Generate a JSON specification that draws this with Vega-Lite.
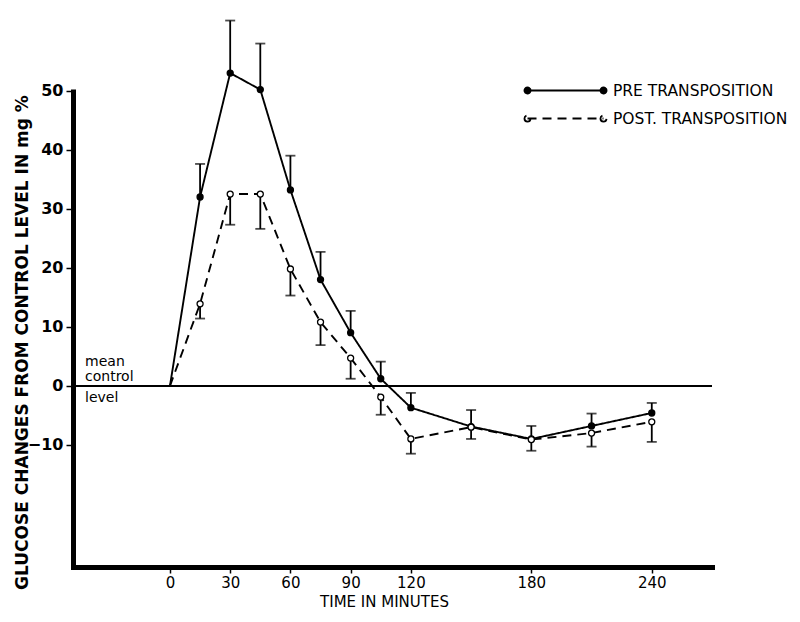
{
  "$schema": "https://vega.github.io/schema/vega-lite/v6.json",
  "width": 639,
  "height": 478,
  "autosize": {"type": "none"},
  "padding": {"left": 73, "top": 89, "right": 88, "bottom": 55},
  "background": "white",
  "config": {"view": {"stroke": null}, "font": "DejaVu Sans"},
  "datasets": {
    "glucose": [
      {"series": "PRE TRANSPOSITION", "t": 0, "v": 0, "e": null},
      {"series": "PRE TRANSPOSITION", "t": 15, "v": 32.0, "e": 37.6},
      {"series": "PRE TRANSPOSITION", "t": 30, "v": 53.0, "e": 61.9},
      {"series": "PRE TRANSPOSITION", "t": 45, "v": 50.2, "e": 58.0},
      {"series": "PRE TRANSPOSITION", "t": 60, "v": 33.2, "e": 39.0},
      {"series": "PRE TRANSPOSITION", "t": 75, "v": 18.0, "e": 22.7},
      {"series": "PRE TRANSPOSITION", "t": 90, "v": 9.0, "e": 12.7},
      {"series": "PRE TRANSPOSITION", "t": 105, "v": 1.2, "e": 4.1},
      {"series": "PRE TRANSPOSITION", "t": 120, "v": -3.7, "e": -1.2},
      {"series": "PRE TRANSPOSITION", "t": 150, "v": -6.9, "e": -4.1},
      {"series": "PRE TRANSPOSITION", "t": 180, "v": -9.0, "e": -6.8},
      {"series": "PRE TRANSPOSITION", "t": 210, "v": -6.8, "e": -4.7},
      {"series": "PRE TRANSPOSITION", "t": 240, "v": -4.6, "e": -2.9},
      {"series": "POST. TRANSPOSITION", "t": 0, "v": 0, "e": null},
      {"series": "POST. TRANSPOSITION", "t": 15, "v": 13.9, "e": 11.4},
      {"series": "POST. TRANSPOSITION", "t": 30, "v": 32.5, "e": 27.3},
      {"series": "POST. TRANSPOSITION", "t": 45, "v": 32.5, "e": 26.6},
      {"series": "POST. TRANSPOSITION", "t": 60, "v": 19.8, "e": 15.3},
      {"series": "POST. TRANSPOSITION", "t": 75, "v": 10.8, "e": 6.9},
      {"series": "POST. TRANSPOSITION", "t": 90, "v": 4.7, "e": 1.2},
      {"series": "POST. TRANSPOSITION", "t": 105, "v": -1.9, "e": -4.9},
      {"series": "POST. TRANSPOSITION", "t": 120, "v": -9.0, "e": -11.5},
      {"series": "POST. TRANSPOSITION", "t": 150, "v": -7.0, "e": -9.0},
      {"series": "POST. TRANSPOSITION", "t": 180, "v": -9.1, "e": -11.0},
      {"series": "POST. TRANSPOSITION", "t": 210, "v": -8.0, "e": -10.3},
      {"series": "POST. TRANSPOSITION", "t": 240, "v": -6.1, "e": -9.5}
    ],
    "note": [{"label": "mean control level"}]
  },
  "data": {"name": "glucose"},
  "layer": [
    {
      "mark": {"type": "line", "color": "black", "strokeWidth": 1.9},
      "encoding": {
        "x": {
          "field": "t", "type": "quantitative",
          "scale": {"domain": [-48.3, 270], "nice": false, "zero": false},
          "axis": {
            "title": "TIME IN MINUTES",
            "values": [0, 30, 60, 90, 120, 180, 240],
            "grid": false,
            "domainWidth": 5, "domainColor": "black", "domainCap": "square",
            "tickColor": "black", "tickWidth": 1.5, "tickSize": 6,
            "labelFontSize": 15, "labelColor": "black", "labelPadding": 2,
            "labelFont": "DejaVu Sans",
            "titleFontSize": 15, "titleFontWeight": "normal", "titleColor": "black",
            "titleFont": "DejaVu Sans", "titlePadding": 4, "titleX": 311
          }
        },
        "y": {
          "field": "v", "type": "quantitative",
          "scale": {"domain": [-30.7, 50.3], "nice": false, "zero": false},
          "axis": {
            "title": "GLUCOSE CHANGES FROM CONTROL LEVEL IN mg %",
            "values": [-10, 0, 10, 20, 30, 40, 50],
            "grid": false,
            "domainWidth": 5, "domainColor": "black",
            "tickColor": "black", "tickWidth": 1.5, "tickSize": 7,
            "labelFontSize": 16, "labelFontWeight": "bold", "labelColor": "black",
            "labelPadding": 3, "labelFont": "DejaVu Sans",
            "titleFontSize": 17, "titleFontWeight": "bold", "titleColor": "black",
            "titleFont": "DejaVu Sans",
            "titleX": -51, "titleY": 253, "titleAngle": 270,
            "titleAlign": "center", "titleBaseline": "middle"
          }
        },
        "detail": {"field": "series"},
        "order": {"field": "t", "type": "quantitative"},
        "strokeDash": {
          "field": "series", "type": "nominal",
          "scale": {"domain": ["PRE TRANSPOSITION", "POST. TRANSPOSITION"], "range": [[1, 0], [9, 6]]},
          "legend": {
            "title": null,
            "orient": "none",
            "legendX": 484,
            "legendY": -7,
            "padding": 0,
            "symbolType": "M-5.4,0a0.4,0.4 0 1,0 0.8,0a0.4,0.4 0 1,0 -0.8,0M-5,0H5M4.6,0a0.4,0.4 0 1,0 0.8,0a0.4,0.4 0 1,0 -0.8,0",
            "symbolSize": 231,
            "symbolStrokeColor": "black",
            "symbolStrokeWidth": 1.8,
            "labelFontSize": 15.5,
            "labelFont": "DejaVu Sans",
            "labelColor": "black",
            "labelLimit": 400,
            "labelOffset": 39,
            "rowPadding": 11,
            "encode": {
              "symbols": {
                "update": {
                  "fill": {"signal": "datum.label == 'PRE TRANSPOSITION' ? 'black' : 'white'"},
                  "stroke": {"value": "black"},
                  "strokeWidth": {"value": 1.8},
                  "opacity": {"value": 1},
                  "strokeOpacity": {"value": 1},
                  "strokeDash": {"signal": "datum.label == 'PRE TRANSPOSITION' ? [1, 0] : [19.5, 0, 9, 6, 9, 6, 9, 6, 9, 6, 9, 6, 21, 10]"}
                }
              }
            }
          }
        }
      }
    },
    {
      "mark": {"type": "rule", "color": "black", "strokeWidth": 1.5},
      "encoding": {"y": {"datum": 0, "type": "quantitative"}}
    },
    {
      "data": {"name": "note"},
      "mark": {"type": "text", "align": "left", "baseline": "top", "dy": -31, "fontSize": 14, "font": "DejaVu Sans", "color": "black", "lineHeight": 15},
      "encoding": {
        "x": {"datum": -42.3, "type": "quantitative"},
        "y": {"datum": 0, "type": "quantitative"},
        "text": {"value": ["mean", "control"]}
      }
    },
    {
      "data": {"name": "note"},
      "mark": {"type": "text", "align": "left", "baseline": "top", "dy": 5, "fontSize": 14, "font": "DejaVu Sans", "color": "black"},
      "encoding": {
        "x": {"datum": -42.3, "type": "quantitative"},
        "y": {"datum": 0, "type": "quantitative"},
        "text": {"value": "level"}
      }
    },
    {
      "transform": [{"filter": "datum.e != null"}],
      "mark": {"type": "rule", "color": "black", "strokeWidth": 1.8},
      "encoding": {
        "x": {"field": "t", "type": "quantitative"},
        "y": {"field": "v", "type": "quantitative"},
        "y2": {"field": "e"}
      }
    },
    {
      "transform": [{"filter": "datum.e != null"}],
      "mark": {"type": "tick", "orient": "horizontal", "color": "black", "size": 10, "thickness": 1.8},
      "encoding": {
        "x": {"field": "t", "type": "quantitative"},
        "y": {"field": "e", "type": "quantitative"}
      }
    },
    {
      "transform": [{"filter": "datum.t > 0"}],
      "mark": {"type": "point", "shape": "circle", "stroke": "black", "strokeWidth": 1.3, "opacity": 1, "filled": false},
      "encoding": {
        "x": {"field": "t", "type": "quantitative"},
        "y": {"field": "v", "type": "quantitative"},
        "fill": {
          "field": "series", "type": "nominal",
          "scale": {"domain": ["PRE TRANSPOSITION", "POST. TRANSPOSITION"], "range": ["black", "white"]},
          "legend": null
        },
        "size": {"value": 36}
      }
    }
  ]
}
